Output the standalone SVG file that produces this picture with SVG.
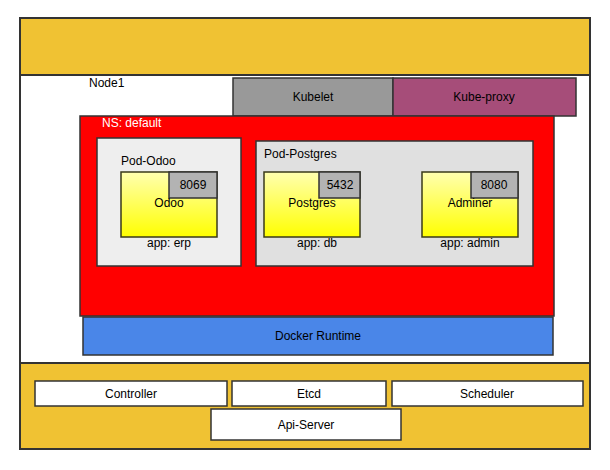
<svg xmlns="http://www.w3.org/2000/svg" width="610" height="470" viewBox="0 0 610 470">
<defs>
<linearGradient id="cg" x1="0" y1="0" x2="0" y2="1">
<stop offset="0" stop-color="#ffffb0"/>
<stop offset="1" stop-color="#ffff00"/>
</linearGradient>
<style>
rect{stroke:#333333;stroke-width:1.5}
text{font-family:"Liberation Sans",Arial,sans-serif;font-size:12px;fill:#000}
.c{text-anchor:middle}
.w{fill:#ffffff}
.ctr{fill:url(#cg);stroke:#3a3a1a}
.port{fill:#b3b3b3}
.box{fill:#ffffff}
</style>
</defs>
<rect id="bg" x="0" y="0" width="610" height="470" style="fill:#fff;stroke:none"/>
<g id="master">
<rect x="20" y="18" width="570" height="57" fill="#f0c233" style="stroke-width:2"/>
<rect x="20" y="363" width="570" height="86" fill="#f0c233" style="stroke-width:2"/>
</g>
<g id="node1">
<rect x="20" y="75" width="570" height="288" fill="#ffffff" style="stroke-width:2"/>
<text x="89" y="87">Node1</text>
</g>
<g id="kubelet">
<rect x="233" y="78" width="160" height="38" fill="#999999"/>
<text class="c" x="313" y="101">Kubelet</text>
</g>
<g id="kube-proxy">
<rect x="393" y="78" width="183" height="38" fill="#a64d79"/>
<text class="c" x="484" y="101">Kube-proxy</text>
</g>
<g id="ns-default">
<rect x="80" y="116" width="474" height="200" fill="#ff0000"/>
<text class="w" x="102" y="127">NS: default</text>
</g>
<g id="pod-odoo">
<rect x="97" y="138" width="144" height="128" fill="#eeeeee"/>
<text x="121" y="165">Pod-Odoo</text>
</g>
<g id="odoo">
<rect class="ctr" x="121" y="172" width="96" height="65"/>
<rect class="port" x="169" y="172" width="48" height="26"/>
<text class="c" x="193" y="189">8069</text>
<text class="c" x="169" y="207">Odoo</text>
<text class="c" x="169" y="247">app: erp</text>
</g>
<g id="pod-postgres">
<rect x="256" y="141" width="277" height="125" fill="#e0e0e0"/>
<text x="264" y="158">Pod-Postgres</text>
</g>
<g id="postgres">
<rect class="ctr" x="264" y="172" width="96" height="65"/>
<rect class="port" x="319" y="172" width="41" height="26"/>
<text class="c" x="340" y="189">5432</text>
<text class="c" x="312" y="207">Postgres</text>
<text class="c" x="317" y="247">app: db</text>
</g>
<g id="adminer">
<rect class="ctr" x="422" y="172" width="96" height="65"/>
<rect class="port" x="471" y="172" width="47" height="26"/>
<text class="c" x="494" y="189">8080</text>
<text class="c" x="470" y="207">Adminer</text>
<text class="c" x="470" y="247">app: admin</text>
</g>
<g id="docker-runtime">
<rect x="83" y="317" width="470" height="38" fill="#4a86e8"/>
<text class="c" x="318" y="340">Docker Runtime</text>
</g>
<g id="controller">
<rect class="box" x="35" y="381" width="192" height="25"/>
<text class="c" x="131" y="398">Controller</text>
</g>
<g id="etcd">
<rect class="box" x="232" y="381" width="154" height="25"/>
<text class="c" x="309" y="398">Etcd</text>
</g>
<g id="scheduler">
<rect class="box" x="392" y="381" width="191" height="25"/>
<text class="c" x="487" y="398">Scheduler</text>
</g>
<g id="api-server">
<rect class="box" x="211" y="409" width="190" height="31"/>
<text class="c" x="306" y="429">Api-Server</text>
</g>
<g id="connectors"></g>
</svg>
